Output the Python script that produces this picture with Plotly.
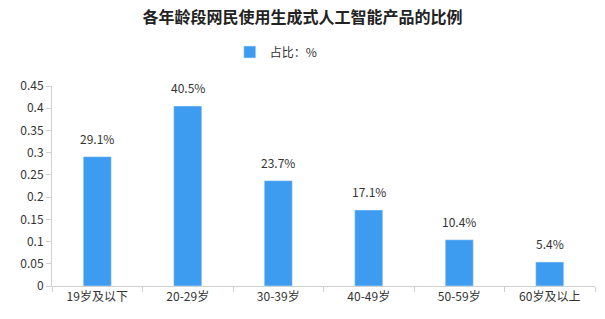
import plotly.graph_objects as go

categories = ["19岁及以下", "20-29岁", "30-39岁", "40-49岁", "50-59岁", "60岁及以上"]
values = [0.291, 0.405, 0.237, 0.171, 0.104, 0.054]
labels = ["29.1%", "40.5%", "23.7%", "17.1%", "10.4%", "5.4%"]
y_ticks = [0, 0.05, 0.1, 0.15, 0.2, 0.25, 0.3, 0.35, 0.4, 0.45]
y_tick_text = ["0", "0.05", "0.1", "0.15", "0.2", "0.25", "0.3", "0.35", "0.4", "0.45"]

font = "Noto Sans CJK SC"
fig = go.Figure()
fig.add_trace(go.Bar(
    x=categories, y=values, name="占比：%",
    marker=dict(color="#3d9cf0"),
    width=0.31,
))
for c, v, t in zip(categories, values, labels):
    fig.add_annotation(x=c, y=v, text=t, showarrow=False, yanchor="bottom", yshift=8,
                       font=dict(family=font, size=12, color="#333333"))
fig.update_layout(
    width=605, height=319,
    margin=dict(l=52, r=10, t=86, b=33),
    paper_bgcolor="white", plot_bgcolor="white",
    title=dict(text="<b>各年龄段网民使用生成式人工智能产品的比例</b>", x=0.5, xanchor="center",
               y=0.945, yanchor="middle", font=dict(family=font, size=16, color="#222222")),
    showlegend=True,
    legend=dict(orientation="h", x=0.413, xanchor="center", y=1.17, yanchor="middle",
                font=dict(family=font, size=12, color="#333333"), itemwidth=30),
    font=dict(family=font, size=12, color="#333333"),
)
fig.update_xaxes(showline=True, linecolor="#d0d0d0", ticks="outside", tickson="boundaries",
                 ticklen=5, tickcolor="#d0d0d0", showgrid=False,
                 tickfont=dict(family=font, size=12, color="#333333"))
fig.update_yaxes(range=[0, 0.45], tickvals=y_ticks, ticktext=y_tick_text, showline=True,
                 linecolor="#d0d0d0", ticks="outside", ticklen=5, tickcolor="#d0d0d0",
                 showgrid=False, zeroline=False,
                 tickfont=dict(family=font, size=12, color="#333333"))
fig.write_html("out.html")
